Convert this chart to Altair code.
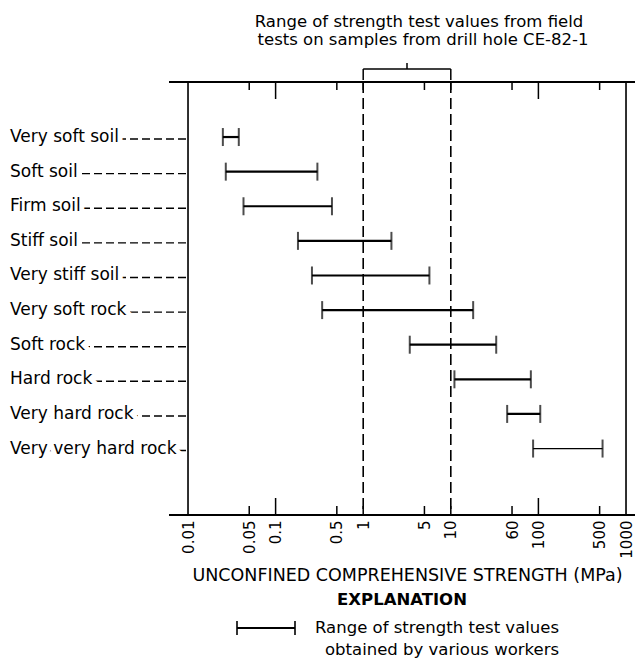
import altair as alt
import pandas as pd

# ---------------- data ----------------
categories = ["Very soft soil", "Soft soil", "Firm soil", "Stiff soil", "Very stiff soil",
              "Very soft  rock", "Soft rock", "Hard rock", "Very hard rock", "Very very hard rock"]
low = [0.025, 0.027, 0.043, 0.18, 0.26, 0.34, 3.4, 11, 44, 87]
high = [0.038, 0.3, 0.44, 2.1, 5.7, 18, 33, 82, 105, 540]
field_range = [1, 10]
tick_values = [0.01, 0.05, 0.1, 0.5, 1, 5, 10, 50, 100, 500, 1000]
tick_labels = ["0.01", "0.05", "0.1", "0.5", "1", "5", "10", "60", "100", "500", "1000"]
inner_short = [0.05, 0.5, 5, 50, 500]
inner_long = [0.1, 100]
title_lines = ["Range of strength test values from field", "tests on samples from drill hole CE-82-1"]
x_title = "UNCONFINED COMPREHENSIVE STRENGTH (MPa)"
legend_title = "EXPLANATION"
legend_lines = ["Range of strength test values", "obtained by various workers"]

# ---------------- setup ----------------
W, H = 438, 433
PL = 180          # left padding; page x of plot left = 8 + PL
FONT = "DejaVu Sans"
rows = pd.DataFrame({"cat": categories, "idx": list(range(len(categories))), "lo": low, "hi": high})
one = pd.DataFrame({"a": [0]})


def px(page_x):
    """convert a page x position to plot coordinates"""
    return page_x - 8 - PL


expr = "''"
for v, l in reversed(list(zip(tick_values, tick_labels))):
    expr = f"abs(datum.value - {v}) < {v * 1e-3} ? '{l}' : ({expr})"

xscale = alt.Scale(type="log", domain=[0.01, 1000], nice=False)
xaxis = alt.Axis(values=tick_values, labelExpr=expr, labelAngle=270, labelFont=FONT,
                 labelFontSize=15, labelColor="black", labelPadding=5, ticks=False, tickSize=0,
                 domain=False, grid=False, title=x_title, titleFont=FONT, titleFontSize=17.5,
                 titleFontWeight="normal", titleColor="black", titlePadding=8)


def X(field):
    return alt.X(field, type="quantitative", scale=xscale, axis=xaxis, title=x_title)


yscale = alt.Scale(domain=[-1.59, 10.92], reverse=True, nice=False, zero=False)
Y = alt.Y("idx:Q", scale=yscale, axis=None)

# ---------------- layers ----------------
bars = alt.Chart(rows).mark_rule(color="black").encode(
    x=X("lo"), x2="hi", y=Y,
    strokeWidth=alt.condition(alt.datum.cat == "Very very hard rock", alt.value(1.2), alt.value(2.2)))
cap_lo = alt.Chart(rows).mark_tick(orient="vertical", color="black", size=18, thickness=2).encode(x=X("lo"), y=Y)
cap_hi = alt.Chart(rows).mark_tick(orient="vertical", color="black", size=18, thickness=2).encode(x=X("hi"), y=Y)

leaders = alt.Chart(rows).mark_rule(color="black", strokeWidth=1.4, strokeDash=[8, 4]).encode(
    x=alt.value(px(10)), x2=alt.value(px(186)), y=Y, yOffset=alt.value(2))
halo = alt.Chart(rows).mark_text(align="left", baseline="middle", font=FONT, fontSize=17,
                                 stroke="white", strokeWidth=10, fill="white").encode(
    x=alt.value(px(10)), y=Y, text="cat")
labels = alt.Chart(rows).mark_text(align="left", baseline="middle", font=FONT, fontSize=17,
                                   color="black").encode(x=alt.value(px(10)), y=Y, text="cat")

fr = pd.DataFrame({"value": field_range})
dashed = alt.Chart(fr).mark_rule(color="black", strokeWidth=1.6, strokeDash=[11, 5]).encode(
    x=X("value"), y=alt.value(0), y2=alt.value(H))

edges = pd.DataFrame({"value": [0.01, 1000]})
verticals = alt.Chart(edges).mark_rule(color="black", strokeWidth=1.6).encode(
    x=X("value"), y=alt.value(0), y2=alt.value(H))
top_line = alt.Chart(one).mark_rule(color="black", strokeWidth=1.8).encode(
    x=alt.value(-19), x2=alt.value(W + 13), y=alt.value(0))
bot_line = alt.Chart(one).mark_rule(color="black", strokeWidth=1.8).encode(
    x=alt.value(-19), x2=alt.value(W + 13), y=alt.value(H))

ts = pd.DataFrame({"value": inner_short + [1, 10]})
tl = pd.DataFrame({"value": inner_long})
top_short = alt.Chart(ts).mark_rule(color="black", strokeWidth=1.5).encode(
    x=X("value"), y=alt.value(0), y2=alt.value(8))
top_long = alt.Chart(tl).mark_rule(color="black", strokeWidth=1.5).encode(
    x=X("value"), y=alt.value(0), y2=alt.value(17))
bot_short = alt.Chart(ts).mark_rule(color="black", strokeWidth=1.5).encode(
    x=X("value"), y=alt.value(H - 9), y2=alt.value(H))
bot_long = alt.Chart(tl).mark_rule(color="black", strokeWidth=1.5).encode(
    x=X("value"), y=alt.value(H - 17), y2=alt.value(H))

# brace over the field-test range
br = pd.DataFrame({"lo": [field_range[0]], "hi": [field_range[1]]})
br["mid"] = (br["lo"] * br["hi"]) ** 0.5
brace_h = alt.Chart(br).mark_rule(color="black", strokeWidth=1.5).encode(
    x=X("lo"), x2="hi", y=alt.value(-13))
brace_l = alt.Chart(br).mark_rule(color="black", strokeWidth=1.5).encode(
    x=X("lo"), y=alt.value(-13), y2=alt.value(-2))
brace_r = alt.Chart(br).mark_rule(color="black", strokeWidth=1.5).encode(
    x=X("hi"), y=alt.value(-13), y2=alt.value(-2))
brace_t = alt.Chart(br).mark_rule(color="black", strokeWidth=1.5).encode(
    x=X("mid"), y=alt.value(-19), y2=alt.value(-13))

# title
t1 = alt.Chart(one).mark_text(text=title_lines[0], font=FONT, fontSize=16.5, color="black",
                              baseline="middle", align="center").encode(x=alt.value(px(419)), y=alt.value(-60))
t2 = alt.Chart(one).mark_text(text=title_lines[1], font=FONT, fontSize=16.5, color="black",
                              baseline="middle", align="center").encode(x=alt.value(px(423)), y=alt.value(-42))

# explanation / legend
ex = alt.Chart(one).mark_text(text=legend_title, font=FONT, fontSize=16.5, fontWeight="bold",
                              color="black", baseline="middle", align="center").encode(
    x=alt.value(px(402)), y=alt.value(518))
lg_bar = alt.Chart(one).mark_rule(color="black", strokeWidth=1.8).encode(
    x=alt.value(px(237)), x2=alt.value(px(295)), y=alt.value(546))
lg_c1 = alt.Chart(one).mark_rule(color="black", strokeWidth=1.6).encode(
    x=alt.value(px(237)), y=alt.value(539), y2=alt.value(553))
lg_c2 = alt.Chart(one).mark_rule(color="black", strokeWidth=1.6).encode(
    x=alt.value(px(295)), y=alt.value(539), y2=alt.value(553))
lg_t1 = alt.Chart(one).mark_text(text=legend_lines[0], font=FONT, fontSize=16.5, color="black",
                                 baseline="middle", align="left").encode(x=alt.value(px(315)), y=alt.value(546))
lg_t2 = alt.Chart(one).mark_text(text=legend_lines[1], font=FONT, fontSize=16.5, color="black",
                                 baseline="middle", align="left").encode(x=alt.value(px(325)), y=alt.value(568))

chart = alt.layer(
    leaders, halo, labels, dashed, verticals, top_line, bot_line,
    top_short, top_long, bot_short, bot_long,
    bars, cap_lo, cap_hi,
    brace_h, brace_l, brace_r, brace_t,
    t1, t2, ex, lg_bar, lg_c1, lg_c2, lg_t1, lg_t2,
).properties(
    width=W, height=H,
    autosize=alt.AutoSizeParams(type="none"),
    padding={"left": PL, "top": 74, "right": 9, "bottom": 150},
).configure_view(stroke=None).configure(background="white")

chart.save("out.html", embed_options={"renderer": "svg", "actions": False})
